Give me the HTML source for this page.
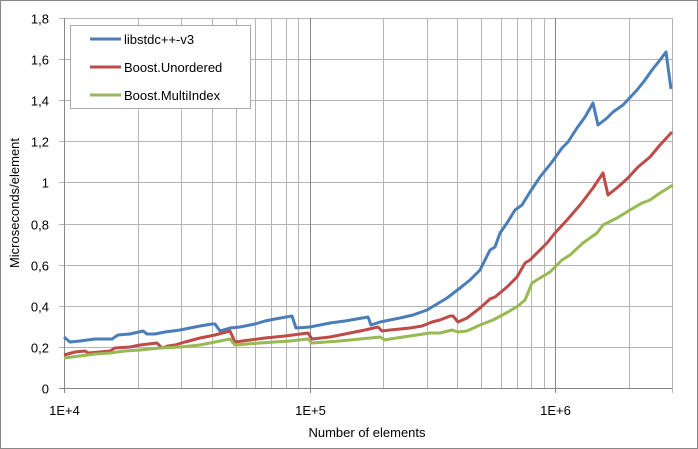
<!DOCTYPE html>
<html><head><meta charset="utf-8"><style>
html,body{margin:0;padding:0;background:#fff}
svg{display:block;font-family:"Liberation Sans",sans-serif}
</style></head><body>
<svg id="s" width="698" height="449" xmlns="http://www.w3.org/2000/svg">
<rect x="0.5" y="0.5" width="697" height="448" fill="#fff" stroke="#888"/>
<g id="grid"></g>
<g font-size="13" fill="#000" id="labels"></g>
<text x="367" y="437" font-size="13" text-anchor="middle">Number of elements</text>
<text transform="translate(19,203) rotate(-90)" font-size="13" text-anchor="middle">Microseconds/element</text>
<g fill="none" stroke-width="3" stroke-linejoin="round">
<polyline stroke="#4a7ebb" points="64,337 70,342 80,341 95,339 112,339 118,335 130,334 143,331 147,334 155,334 165,332 180,330 190,328 200,326 212,324 215,324 220,331 230,328 240,327 255,324 265,321 275,319 292,316 296,328 310,327 330,323 345,321 368,317 371,325 380,322 390,320 400,318 413,315 427,310 447,298 460,288 470,280 480,270 490,250 495,247 500,233 507,223 515,210 522,205 530,192 540,177 552,162 562,148 568,142 577,128 585,117 593,103 598,125 607,118 613,112 623,105 637,90 645,80 652,70 660,60 666,52 671,89"/>
<polyline stroke="#be4b48" points="64,355 75,352 85,351 88,353 100,352 110,351 115,348 130,347 140,345 157,343 162,348 168,346 175,345 185,342 200,338 215,335 230,331 235,342 250,340 265,338 285,336 308,333 312,339 330,337 350,333 365,330 378,327 382,331 390,330 400,329 410,328 422,326 432,322 440,320 450,316 453,316 458,322 467,318 480,308 490,299 495,297 507,287 517,277 525,263 530,260 547,243 555,233 567,220 580,205 593,188 603,173 608,195 618,187 628,178 638,167 650,157 660,145 672,132"/>
<polyline stroke="#98b954" points="64,358 80,356 95,354 110,353 125,351 140,350 160,348 180,347 200,345 230,339 235,345 260,343 290,341 308,339 312,343 340,341 370,338 380,337 385,340 390,339 403,337 417,335 430,333 440,333 452,330 458,332 467,331 480,325 493,320 508,312 518,306 525,300 532,283 540,278 550,272 562,260 570,255 583,243 597,233 603,225 617,218 630,210 642,203 650,200 660,193 673,185"/>
</g>
<rect x="70.5" y="25.5" width="180" height="83" fill="#fff" stroke="#aaa"/>
<g stroke-width="3"><line x1="90" y1="39" x2="121" y2="39" stroke="#4a7ebb"/><line x1="90" y1="67" x2="121" y2="67" stroke="#be4b48"/><line x1="90" y1="95" x2="121" y2="95" stroke="#98b954"/></g>
<g font-size="13"><text x="124" y="44">libstdc++-v3</text><text x="124" y="72">Boost.Unordered</text><text x="124" y="100">Boost.MultiIndex</text></g>
</svg>
<script>
var g=document.getElementById('grid'),L=document.getElementById('labels'),h='',t='';
var x0=64,dec=245.5,y0=388,ys=205.6,xr=672;
var lab=['0','0,2','0,4','0,6','0,8','1','1,2','1,4','1,6','1,8'];
for(var i=0;i<=9;i++){var y=Math.round(y0-i*0.2*ys)+0.5;h+='<line x1="59" x2="'+xr+'" y1="'+y+'" y2="'+y+'" stroke="#b4b4b4"/>';
t+='<text x="49" y="'+(y+5)+'" text-anchor="end">'+lab[i]+'</text>';}
for(var d=0;d<3;d++)for(var k=1;k<10;k++){var x=Math.round(x0+(d+Math.log10(k))*dec)+0.5;if(x>xr+1)break;
h+='<line x1="'+x+'" x2="'+x+'" y1="18" y2="'+(k==1?393:388)+'" stroke="'+(k==1?'#888':'#b4b4b4')+'"/>';
if(k==1)t+='<text x="'+x+'" y="415" text-anchor="middle">1E+'+(d+4)+'</text>';}
h+='<line x1="'+(xr+0.5)+'" x2="'+(xr+0.5)+'" y1="18" y2="393" stroke="#b4b4b4"/>';
h+='<line x1="64.5" x2="64.5" y1="18" y2="393" stroke="#888"/><line x1="59" x2="'+xr+'" y1="388.5" y2="388.5" stroke="#888"/>';
g.innerHTML=h;L.innerHTML=t;
</script>
</body></html>
